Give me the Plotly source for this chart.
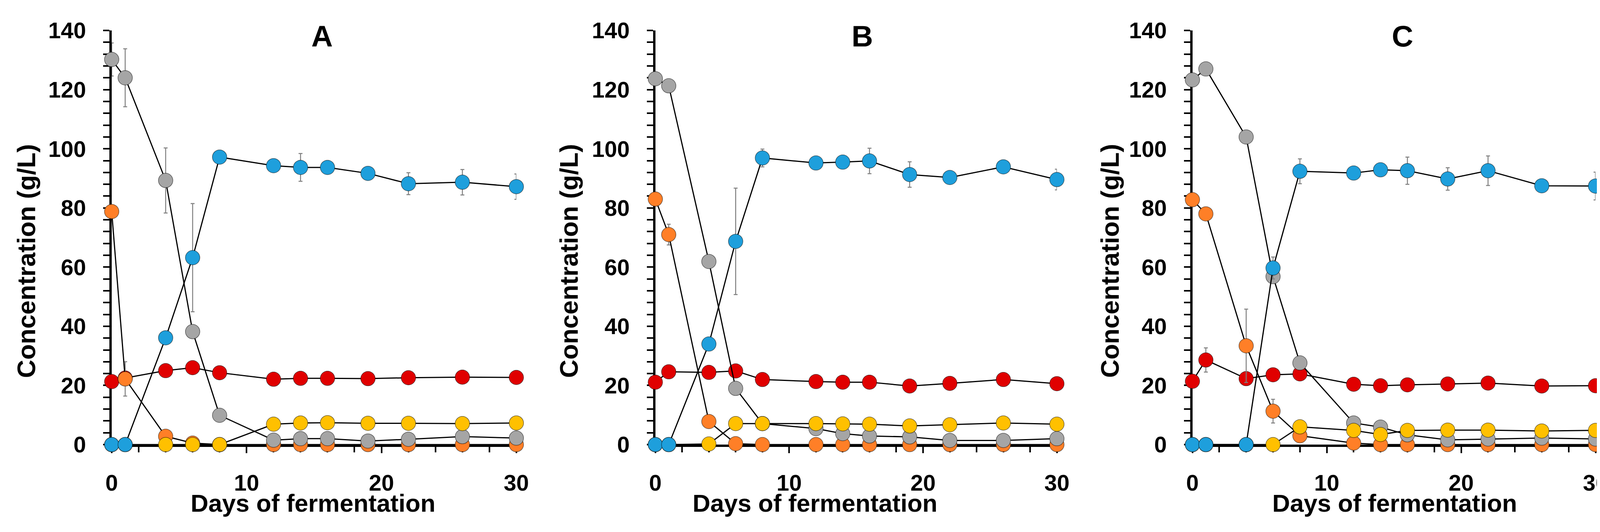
import plotly.graph_objects as go

# the page body adds an 8 px margin; the figure is kept a little smaller than
# the window so that no scrollbar appears
OFF = 8
W, H = 4170 - 2 * OFF, 1340

days = [0, 1, 4, 6, 8, 12, 14, 16, 19, 22, 26, 30]
panel_labels = ["A", "B", "C"]

# panel A
a_red = [21.3, 22.5, 25.0, 26.0, 24.3, 22.1, 22.4, 22.4, 22.3, 22.6, 22.8, 22.7]
a_orange = [78.8, 22.2, 2.8, 0.5, 0, 0, 0, 0, 0, 0, 0, 0]
a_gray = [130.2, 124.0, 89.3, 38.2, 9.9, 1.5, 2.0, 2.0, 1.2, 1.8, 2.7, 2.2]
a_yellow = [0, 0, 0, 0, 0, 6.9, 7.3, 7.4, 7.2, 7.2, 7.1, 7.3]
a_blue = [0, 0, 36.1, 63.2, 97.2, 94.3, 93.7, 93.7, 91.7, 88.2, 88.7, 87.2]
a_red_err = [0] * 12
a_orange_err = [0, 5.8, 0, 0, 0, 0, 0, 0, 0, 0, 0, 0]
a_gray_err = [5.6, 9.8, 11.0, 0, 0, 0, 0, 0, 0, 0, 0, 0]
a_yellow_err = [0] * 12
a_blue_err = [0, 0, 0, 18.3, 0, 0, 4.7, 0, 0, 3.7, 4.3, 4.3]

# panel B
b_red = [21.1, 24.6, 24.4, 24.9, 22.0, 21.3, 21.1, 21.1, 19.8, 20.7, 22.0, 20.6]
b_orange = [83.0, 71.0, 7.8, 0.3, 0, 0, 0, 0, 0, 0, 0, 0]
b_gray = [123.7, 121.3, 61.9, 19.0, 7.1, 5.4, 3.7, 2.9, 2.6, 1.4, 1.4, 2.0]
b_yellow = [0, 0, 0.2, 7.1, 7.1, 7.1, 7.0, 6.9, 6.3, 6.7, 7.3, 6.9]
b_blue = [0, 0, 34.0, 68.7, 96.9, 95.2, 95.5, 95.9, 91.3, 90.3, 93.9, 89.6]
b_red_err = [0] * 12
b_orange_err = [0, 3.5, 0, 0, 0, 0, 0, 0, 0, 0, 0, 0]
b_gray_err = [0] * 12
b_yellow_err = [0] * 12
b_blue_err = [0, 0, 0, 18.0, 3.0, 0, 0, 4.3, 4.3, 0, 0, 3.5]

# panel C
c_red = [21.4, 28.6, 22.3, 23.6, 23.9, 20.4, 19.9, 20.2, 20.5, 20.8, 19.8, 19.9]
c_orange = [82.8, 78.0, 33.4, 11.3, 3.0, 0.5, 0, 0, 0, 0, 0, 0]
c_gray = [123.3, 127.0, 104.0, 56.8, 27.6, 7.3, 5.9, 3.3, 1.6, 1.9, 2.2, 1.9]
c_yellow = [0, 0, 0, 0, 6.0, 4.8, 3.4, 4.8, 4.9, 4.9, 4.6, 4.8]
c_blue = [0, 0, 0, 59.7, 92.4, 91.8, 92.9, 92.6, 89.8, 92.6, 87.5, 87.4]
c_red_err = [0, 4.1, 0, 0, 0, 0, 0, 0, 0, 0, 0, 0]
c_orange_err = [0, 0, 12.4, 4.0, 0, 0, 0, 0, 0, 0, 0, 0]
c_gray_err = [0] * 12
c_yellow_err = [0] * 12
c_blue_err = [0, 0, 0, 3.7, 4.2, 0, 0, 4.6, 3.8, 5.0, 0, 4.7]

colors = {"red": "#E00000", "orange": "#FF7F27", "gray": "#A5A5A5",
          "yellow": "#FFC000", "blue": "#1E9FDC"}

panels = [
    [("red", a_red, a_red_err), ("orange", a_orange, a_orange_err), ("gray", a_gray, a_gray_err),
     ("yellow", a_yellow, a_yellow_err), ("blue", a_blue, a_blue_err)],
    [("red", b_red, b_red_err), ("orange", b_orange, b_orange_err), ("gray", b_gray, b_gray_err),
     ("yellow", b_yellow, b_yellow_err), ("blue", b_blue, b_blue_err)],
    [("red", c_red, c_red_err), ("orange", c_orange, c_orange_err), ("gray", c_gray, c_gray_err),
     ("yellow", c_yellow, c_yellow_err), ("blue", c_blue, c_blue_err)],
]

# screen pixels of each panel: (y axis x, x=30 end, panel title x, x title x, y title x)
boxes = [(273, 1321, 818, 795, 53),
         (1681, 2721, 2217, 2095, 1458),
         (3072, 4116, 3616, 3596, 2859)]
plot_top, plot_bottom = 47, 1162


def px(x):
    return (x - OFF) / W


def py(y):
    return 1 - (y - OFF) / H


FONT = "Liberation Sans, Arial, sans-serif"

fig = go.Figure()

for i, series in enumerate(panels):
    n = "" if i == 0 else str(i + 1)
    for name, vals, err in series:
        fig.add_trace(go.Scatter(
            x=days, y=vals, mode="lines+markers", name=name, showlegend=False,
            line=dict(color="black", width=3),
            marker=dict(size=37, color=colors[name], line=dict(color="rgba(0,0,0,0.55)", width=1.5)),
            error_y=dict(type="data", array=[e if e else None for e in err], visible=True,
                         color="#808080", thickness=2.5, width=5),
            cliponaxis=False, xaxis="x" + n, yaxis="y" + n))

axis_common = dict(showline=True, linewidth=6, linecolor="black", showgrid=False, zeroline=False,
                   ticks="outside", ticklen=16, tickwidth=4, tickcolor="black",
                   tickfont=dict(family=FONT, size=58, color="black", weight="bold"),
                   layer="below traces", fixedrange=True)

annotations = []
for i, (left, right, tx, xtx, ytx) in enumerate(boxes):
    n = "" if i == 0 else str(i + 1)
    fig.layout["xaxis" + n] = dict(
        axis_common, domain=[px(left), px(right)], range=[0, 30], dtick=10,
        minor=dict(dtick=2, ticks="outside", ticklen=14, tickwidth=4, tickcolor="black"),
        anchor="y" + n, ticklabelstandoff=26)
    fig.layout["yaxis" + n] = dict(
        axis_common, domain=[py(plot_bottom), py(plot_top)], range=[0, 140], dtick=20,
        minor=dict(dtick=4, ticks="outside", ticklen=16, tickwidth=4, tickcolor="black"),
        anchor="x" + n, ticklabelstandoff=32)
    annotations.append(dict(text=panel_labels[i], x=px(tx), y=py(62), xref="paper", yref="paper",
                            showarrow=False, xanchor="center", yanchor="middle",
                            font=dict(family=FONT, size=76, color="black", weight="bold")))
    annotations.append(dict(text="Days of fermentation", x=px(xtx), y=py(1320), xref="paper",
                            yref="paper", showarrow=False, xanchor="center", yanchor="middle",
                            font=dict(family=FONT, size=63, color="black", weight="bold")))
    annotations.append(dict(text="Concentration (g/L)", x=px(ytx), y=py(668), xref="paper",
                            yref="paper", showarrow=False, xanchor="center", yanchor="middle",
                            textangle=-90,
                            font=dict(family=FONT, size=65, color="black", weight="bold")))

fig.update_layout(width=W, height=H, margin=dict(l=0, r=0, t=0, b=0),
                  paper_bgcolor="white", plot_bgcolor="white", annotations=annotations)

fig.write_html("out.html")
